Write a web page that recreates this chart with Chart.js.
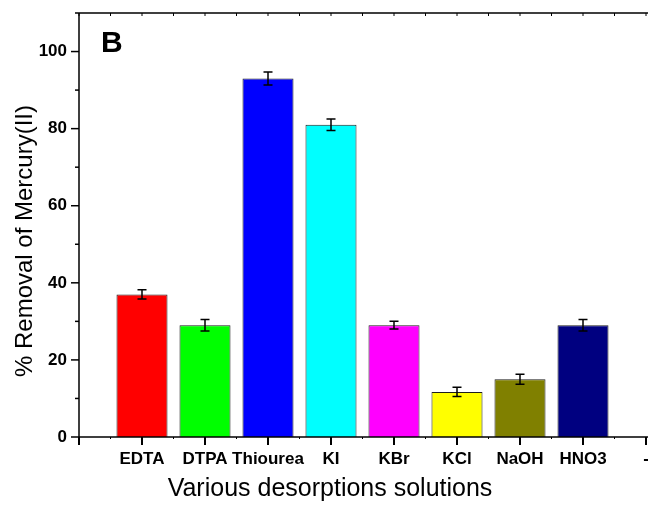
<!DOCTYPE html>
<html>
<head>
<meta charset="utf-8">
<script src="https://cdn.jsdelivr.net/npm/chart.js@4/dist/chart.umd.min.js"></script>
<style>
  html, body { margin: 0; padding: 0; background: #fff; overflow: hidden; }
  #wrap { width: 648px; height: 506px; overflow: hidden; }
</style>
</head>
<body>
<div id="wrap"><canvas id="c" width="709" height="506"></canvas></div>
<script>
// categories on the x axis (first and last slots are empty, like the original plot)
const solutions = ['', 'EDTA', 'DTPA', 'Thiourea', 'KI', 'KBr', 'KCl', 'NaOH', 'HNO3', '-', ''];
// % removal of mercury(II)
const removal = [null, 37, 29, 93, 81, 29, 11.7, 15, 29, null, null];
// standard error for each bar
const errors = [null, 1.2, 1.5, 1.7, 1.5, 1.0, 1.2, 1.3, 1.5, null, null];
const barColors = ['#fff', '#ff0000', '#00ff00', '#0000ff', '#00ffff', '#ff00ff', '#ffff00', '#808000', '#000080', '#fff', '#fff'];
const yTicks = [0, 20, 40, 60, 80, 100];

const FONT = '"Liberation Sans", Arial, sans-serif';

const axesPlugin = {
  id: 'originAxes',
  afterDatasetsDraw(chart) {
    const ctx = chart.ctx;
    const x = chart.scales.x, y = chart.scales.y;
    const a = chart.chartArea;
    ctx.save();
    ctx.strokeStyle = '#000';
    ctx.fillStyle = '#000';

    // error bars
    ctx.lineWidth = 1.5;
    removal.forEach((v, i) => {
      if (v == null) return;
      const px = x.getPixelForValue(i);
      const hi = y.getPixelForValue(v + errors[i]);
      const lo = y.getPixelForValue(v - errors[i]);
      ctx.beginPath();
      ctx.moveTo(px, hi); ctx.lineTo(px, lo);
      ctx.moveTo(px - 4.5, hi); ctx.lineTo(px + 4.5, hi);
      ctx.moveTo(px - 4.5, lo); ctx.lineTo(px + 4.5, lo);
      ctx.stroke();
    });

    // axis lines
    ctx.lineWidth = 1.5;
    ctx.beginPath();
    ctx.moveTo(a.left, a.top); ctx.lineTo(a.left, a.bottom);
    ctx.moveTo(a.left, a.bottom); ctx.lineTo(a.right, a.bottom);
    ctx.moveTo(a.left, a.top); ctx.lineTo(a.right, a.top);
    ctx.stroke();

    // y ticks: major every 20, minor every 10
    for (let v = 0; v <= 110; v += 10) {
      const py = y.getPixelForValue(v);
      const len = v % 20 === 0 ? 8 : 4;
      ctx.beginPath();
      ctx.moveTo(a.left - len, py); ctx.lineTo(a.left, py);
      ctx.stroke();
    }

    // x ticks: major at each category, minor halfway
    ctx.lineWidth = 2;
    solutions.forEach((s, i) => {
      const px = x.getPixelForValue(i);
      ctx.beginPath();
      ctx.moveTo(px, a.bottom); ctx.lineTo(px, a.bottom + 8);
      ctx.stroke();
      if (i < solutions.length - 1) {
        const mx = (px + x.getPixelForValue(i + 1)) / 2;
        ctx.lineWidth = 1;
        ctx.beginPath();
        ctx.moveTo(mx, a.bottom); ctx.lineTo(mx, a.bottom + 2);
        ctx.stroke();
        ctx.lineWidth = 2;
      }
    });

    // top axis small ticks
    ctx.lineWidth = 1;
    for (let i = 0; i < solutions.length - 1; i++) {
      const p0 = x.getPixelForValue(i), p1 = x.getPixelForValue(i + 1);
      [p0, (p0 + p1) / 2].forEach(px => {
        ctx.beginPath();
        ctx.moveTo(px, a.top); ctx.lineTo(px, a.top + 3);
        ctx.stroke();
      });
    }

    // panel letter
    ctx.font = 'bold 30px ' + FONT;
    ctx.textAlign = 'left';
    ctx.textBaseline = 'alphabetic';
    ctx.fillText('B', a.left + 22, a.top + 39);

    // axis titles
    ctx.font = '25px ' + FONT;
    ctx.textAlign = 'center';
    ctx.textBaseline = 'middle';
    ctx.fillText('Various desorptions solutions', 330, 489);

    ctx.translate(25, 241);
    ctx.rotate(-Math.PI / 2);
    ctx.font = '24px ' + FONT;
    ctx.fillText('% Removal of Mercury(II)', 0, 0);
    ctx.restore();
  }
};

new Chart(document.getElementById('c'), {
  type: 'bar',
  data: {
    labels: solutions,
    datasets: [{
      data: removal,
      backgroundColor: barColors,
      borderColor: '#1e1e1e',
      borderWidth: 1,
      barPercentage: 0.81,
      categoryPercentage: 1
    }]
  },
  options: {
    responsive: false,
    animation: false,
    layout: { padding: { top: 13, right: 0, left: 0, bottom: 0 } },
    plugins: {
      legend: { display: false },
      tooltip: { enabled: false }
    },
    scales: {
      x: {
        offset: false,
        grid: { display: false, drawTicks: false },
        border: { display: false },
        ticks: {
          autoSkip: false,
          maxRotation: 0,
          padding: 12,
          color: '#000',
          font: { family: FONT, size: 17, weight: 'bold' }
        },
        afterFit: (s) => {
          s.height = 69;
          s.paddingLeft = 0; s.paddingRight = 0;
        }
      },
      y: {
        min: 0,
        max: 110,
        grid: { display: false, drawTicks: false },
        border: { display: false },
        afterBuildTicks: (s) => { s.ticks = yTicks.map(v => ({ value: v })); },
        ticks: {
          padding: 12,
          color: '#000',
          font: { family: FONT, size: 17, weight: 'bold' }
        },
        afterFit: (s) => {
          s.width = 79;
          s.paddingTop = 0; s.paddingBottom = 0;
        }
      }
    }
  },
  plugins: [axesPlugin]
});
</script>
</body>
</html>
